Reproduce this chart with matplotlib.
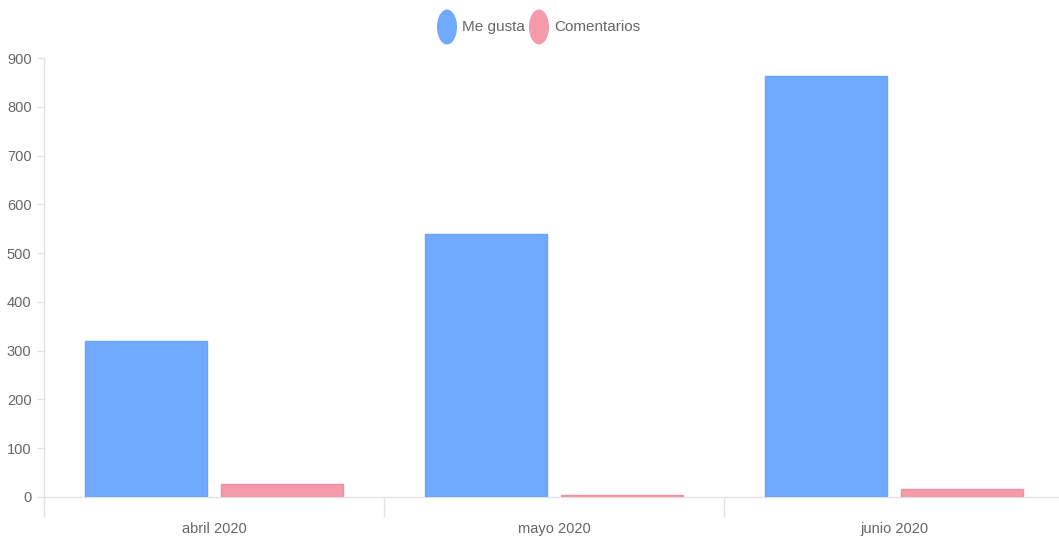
import numpy as np
import matplotlib
matplotlib.use("Agg")
import matplotlib.pyplot as plt
from matplotlib.patches import Ellipse

# Datos mensuales de interacciones
meses = ["abril 2020", "mayo 2020", "junio 2020"]
me_gusta = [320, 540, 863]
comentarios = [27, 5, 16]
series = ["Me gusta", "Comentarios"]
colores = ["#70aaff", "#f59aab"]
bordes = ["#6aa4fa", "#f08fa2"]

plt.rcParams["font.family"] = ["Liberation Sans Narrow", "Liberation Sans", "DejaVu Sans"]
gris_texto = "#666666"
gris_linea = "#e2e2e2"

W, H = 1059, 541
fig = plt.figure(figsize=(W / 100, H / 100), dpi=100)
ax = fig.add_axes([44 / W, 44 / H, 1020 / W, (497 - 58) / H])

x = np.arange(len(meses))
ax.bar(x - 0.2, me_gusta, width=0.36, color=colores[0], edgecolor=bordes[0], linewidth=1, zorder=3)
ax.bar(x + 0.2, comentarios, width=0.36, color=colores[1], edgecolor=bordes[1], linewidth=1, zorder=3)

ax.set_xlim(-0.5, 2.5)
ax.set_ylim(0, 900)
ax.set_yticks(range(0, 1000, 100))

ax.set_xticks(x)
ax.set_xticklabels(meses)
ax.set_xticks([-0.5, 0.5, 1.5], minor=True)
ax.tick_params(axis="x", which="major", length=0, pad=18, labelsize=10.5, labelcolor=gris_texto)
ax.tick_params(axis="x", which="minor", length=14.5, width=1, color=gris_linea)
ax.tick_params(axis="y", length=5, width=1, color=gris_linea, pad=4, labelsize=10.5, labelcolor=gris_texto)

for lado in ["top", "right"]:
    ax.spines[lado].set_visible(False)
for lado in ["left", "bottom"]:
    ax.spines[lado].set_color(gris_linea)
    ax.spines[lado].set_linewidth(1)

# Leyenda superior con marcadores ovalados
pos_leyenda = [(447, 462), (539, 554)]
for (cx, tx), nombre, color in zip(pos_leyenda, series, colores):
    fig.add_artist(Ellipse((cx / W, 1 - 27 / H), width=20 / W, height=35 / H,
                           transform=fig.transFigure, facecolor=color, edgecolor="none"))
    fig.text(tx / W, 1 - 27 / H, nombre, ha="left", va="center", fontsize=11, color=gris_texto)

fig.savefig("out.png", dpi=100)
